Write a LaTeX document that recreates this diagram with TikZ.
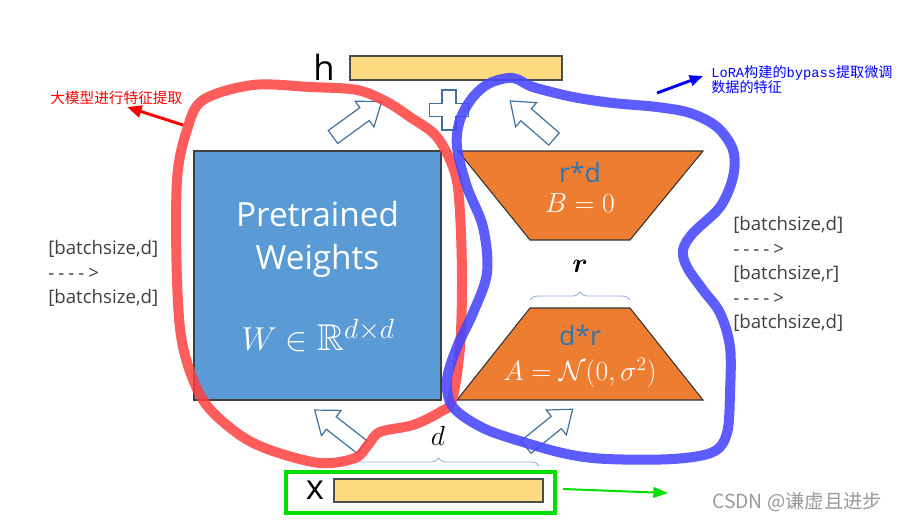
\documentclass[tikz,border=0pt]{standalone}
\usepackage{amsmath,amssymb}
\usepackage{fontspec}
\setsansfont{Open Sans}
\newfontfamily\osans{Open Sans}
\newfontfamily\cjk{Noto Sans CJK SC}
\newfontfamily\lmono{Liberation Mono}
\usetikzlibrary{decorations.pathreplacing,arrows.meta}
\definecolor{barfill}{HTML}{FFDA7E}
\definecolor{wblue}{HTML}{5B9BD5}
\definecolor{orng}{HTML}{ED7D31}
\definecolor{arrc}{HTML}{41719C}
\definecolor{lblue}{HTML}{2E75B6}
\definecolor{brc}{HTML}{8FAADC}
\definecolor{redl}{HTML}{FF4040}
\definecolor{bluel}{HTML}{4646FF}
\definecolor{grn}{HTML}{00E000}
\definecolor{txtg}{HTML}{404040}
\definecolor{wmark}{HTML}{9A9A9A}
\newcommand\blkarrow[3]{% tail x,y ; angle ; length
  \draw[arrc, fill=white, line width=0.9pt, line join=miter, shift={(#1)}, rotate=#2]
    (0,-8) -- (#3-21,-8) -- (#3-21,-16) -- (#3,0) -- (#3-21,16) -- (#3-21,8) -- (0,8) -- cycle;}
\newcommand\dsh{-\kern3pt}
\newcommand\monot[1]{{\lmono\fontsize{10.3}{12}\selectfont #1}}
\tikzset{
  bar/.style={draw=black!70, fill=barfill, line width=0.8pt, inner sep=0pt},
  btxt/.style={font=\osans\fontsize{14}{15}\selectfont, text=txtg, anchor=west, inner sep=0pt},
  bigl/.style={font=\osans\fontsize{26}{30}\selectfont, inner sep=0pt},
  trap/.style={draw=black!80, fill=orng, line width=0.8pt, line join=miter},
  lbl/.style={font=\osans\fontsize{20}{22}\selectfont, text=lblue, inner sep=0pt},
  mlbl/.style={font=\fontsize{22}{23}\selectfont, text=white, inner sep=0pt},
  brc/.style={draw=brc, line width=0.6pt, decorate, decoration={brace, amplitude=6pt}},
  annb/.style={font=\cjk\fontsize{10.6}{12}\selectfont, text=blue, anchor=west, inner sep=0pt},
}
\begin{document}
\begin{tikzpicture}[x=0.75pt,y=-0.75pt]
\useasboundingbox (0,0) rectangle (899,522);

% h bar
\node[bar, minimum width=159pt, minimum height=18pt] (hbar) at (456,68) {};
\node[bigl] (h) at (324,67) {h};

% pretrained weights
\node[draw=black!75, fill=wblue, line width=0.8pt, minimum width=185.25pt, minimum height=186.75pt, inner sep=0pt] (W) at (317.5,275.5) {};
\node[font=\osans\fontsize{25}{28}\selectfont, text=white, inner sep=0pt] (pt1) at (317.5,214) {Pretrained};
\node[font=\osans\fontsize{25}{28}\selectfont, text=white, inner sep=0pt] (pt2) at (317.5,261) {Weights};
\node[font=\fontsize{28}{30}\selectfont, text=white, inner sep=0pt] (pt3) at (318,336) {$W\in\mathbb{R}^{d\times d}$};

% trapezoids
\draw[trap] (458,151) -- (703,151) -- (630,240) -- (530,240) -- cycle;
\draw[trap] (530,308) -- (630,308) -- (703,400) -- (457,400) -- cycle;
\node[lbl] (rd) at (580,172) {r*d};
\node[mlbl] (B) at (580,203) {$B=0$};
\node[lbl] (dr) at (580,335) {d*r};
\node[mlbl] (A) at (580,373) {$A=\mathcal{N}(0,\sigma^2)$};

% r and brace
\node[font=\fontsize{20}{22}\selectfont, inner sep=0pt] (r) at (580,266) {$\boldsymbol{r}$};
\draw[brc] (530,300) -- (630,300);

% d and brace
\node[font=\fontsize{21}{22}\selectfont, inner sep=0pt] (d) at (438,436) {$d$};
\draw[brc] (338,466) -- (539,466);

% x bar and green box
\node[draw=grn, line width=2.3pt, minimum width=201.75pt, minimum height=30.75pt, inner sep=0pt] (gbox) at (420.5,492.5) {};
\node[bar, minimum width=156.75pt, minimum height=17.25pt] (xbar) at (438.5,490.5) {};
\node[bigl] (x) at (315,490) {x};
\coordinate (g1) at (563,489);
\coordinate (g2) at (668,493);
\draw[grn, line width=1.5pt, -{Triangle[length=11pt,width=8pt]}] (g1) -- (g2);

% plus sign
\draw[arrc, fill=white, line width=0.9pt, shift={(449,110)}]
  (-7,-20) -- (7,-20) -- (7,-6.5) -- (19.5,-6.5) -- (19.5,6.5) -- (7,6.5) -- (7,20) -- (-7,20) -- (-7,6.5) -- (-19.5,6.5) -- (-19.5,-6.5) -- (-7,-6.5) -- cycle;

% block arrows
\blkarrow{333,137}{36}{60}
\blkarrow{554,139}{139}{58}
\blkarrow{362,447}{142}{60}
\blkarrow{526,447}{39}{60}

% side texts
\node[btxt] (l1) at (48,249) {[batchsize,d]};
\node[btxt] (l2) at (48,274) {\dsh\dsh\dsh\dsh>};
\node[btxt] (l3) at (48,298) {[batchsize,d]};
\node[btxt] (r1) at (733,225) {[batchsize,d]};
\node[btxt] (r2) at (733,250) {\dsh\dsh\dsh\dsh>};
\node[btxt] (r3) at (733,274) {[batchsize,r]};
\node[btxt] (r4) at (733,299) {\dsh\dsh\dsh\dsh>};
\node[btxt] (r5) at (733,323) {[batchsize,d]};

% red loop
\draw[redl, line width=7.5pt, opacity=0.85, line join=round]
  plot[smooth cycle, tension=0.55] coordinates {(203,100) (253,85) (310,87) (357,90) (387,102) (410,117) (437,137) (455,173) (460,213) (462,280) (460,347) (452,400) (440,412) (413,425) (380,432) (368,445) (355,458) (320,463) (270,450) (237,433) (203,400) (183,347) (177,280) (177,180) (187,130)};
% blue loop
\draw[bluel, line width=7.5pt, opacity=0.88, line join=round]
  plot[smooth cycle, tension=0.55] coordinates {(490,83) (513,78) (533,87) (573,97) (613,103) (657,107) (690,113) (717,127) (733,150) (733,177) (720,207) (693,233) (683,250) (687,267) (703,290) (720,313) (730,347) (730,393) (727,433) (713,452) (673,459) (607,459) (567,454) (523,442) (483,428) (453,407) (447,380) (457,347) (473,313) (487,273) (483,227) (467,187) (457,147) (460,120) (473,97)};

% annotations
\node[font=\cjk\fontsize{11}{12}\selectfont, text=red, anchor=west, inner sep=0pt] (redt) at (50,98) {大模型进行特征提取};
\coordinate (ra1) at (183,125);
\coordinate (ra2) at (127,107);
\draw[red, line width=2.2pt, -{Triangle[length=11pt,width=9pt]}] (ra1) -- (ra2);

\node[annb] (bluet1) at (711,73) {\monot{LoRA}构建的\monot{bypass}提取微调};
\node[annb] (bluet2) at (711,87) {数据的特征};
\coordinate (ba1) at (657,93);
\coordinate (ba2) at (703,76);
\draw[blue, line width=2.2pt, -{Triangle[length=10pt,width=8pt]}] (ba1) -- (ba2);

% watermark
\node[font=\cjk\fontsize{14.5}{15}\selectfont, text=wmark, anchor=west, inner sep=0pt] (wm) at (712,502) {CSDN @谦虚且进步};
\end{tikzpicture}
\end{document}
